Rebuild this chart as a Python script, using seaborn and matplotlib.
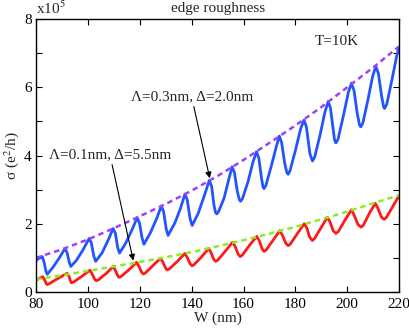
import numpy as np
import pandas as pd
import matplotlib
matplotlib.use("Agg")
import matplotlib.pyplot as plt
import seaborn as sns

# ---- data (sigma in units of 1e5 e^2/h) ----
blue_w = [80.0, 81.3, 82.4, 83.2, 83.8, 84.3, 86.5, 89.0, 91.2, 92.0, 92.8, 93.4,
          95.5, 98.0, 100.5, 101.3, 102.3, 103.0, 105.5, 108.0, 109.7, 110.6, 111.5, 112.2,
          114.5, 117.0, 119.0, 119.9, 120.9, 121.6, 124.0, 126.5, 128.3, 129.2, 130.2, 130.9,
          133.5, 135.7, 137.4, 138.3, 139.4, 140.2, 142.5, 145.0, 146.8, 147.7, 148.6, 149.2,
          149.7, 150.4, 152.5, 154.3, 155.6, 156.5, 157.6, 158.4, 158.9, 159.6, 161.8, 163.6,
          165.0, 165.9, 166.9, 167.5, 167.9, 168.6, 170.8, 172.6, 173.8, 174.7, 175.8, 176.7,
          177.2, 177.9, 180.0, 182.0, 183.3, 184.2, 185.0, 185.6, 186.6, 187.4, 189.5, 191.3,
          192.6, 193.5, 194.5, 195.1, 195.6, 196.4, 198.6, 200.4, 201.6, 202.6, 203.8, 204.7,
          205.2, 206.0, 208.0, 209.8, 211.0, 212.0, 213.2, 214.0, 214.4, 215.2, 217.3, 219.0,
          220.0]
blue_s = [0.92, 1.00, 1.04, 0.85, 0.62, 0.52, 0.72, 1.00, 1.28, 1.15, 0.88, 0.75,
          0.92, 1.22, 1.57, 1.45, 1.05, 0.90, 1.15, 1.55, 1.86, 1.72, 1.30, 1.14,
          1.42, 1.82, 2.18, 2.02, 1.58, 1.40, 1.72, 2.15, 2.52, 2.35, 1.85, 1.66,
          2.02, 2.45, 2.87, 2.70, 2.15, 1.95, 2.30, 2.85, 3.27, 3.10, 2.55, 2.33,
          2.29, 2.36, 2.75, 3.30, 3.67, 3.50, 2.95, 2.70, 2.66, 2.74, 3.25, 3.80,
          4.11, 3.92, 3.35, 3.08, 3.03, 3.12, 3.72, 4.25, 4.57, 4.38, 3.80, 3.50,
          3.45, 3.55, 4.15, 4.78, 5.04, 4.85, 4.40, 4.05, 3.84, 3.95, 4.60, 5.25,
          5.58, 5.40, 4.80, 4.45, 4.37, 4.47, 5.20, 5.85, 6.12, 5.90, 5.25, 4.90,
          4.84, 4.95, 5.65, 6.33, 6.61, 6.40, 5.75, 5.42, 5.38, 5.50, 6.25, 6.90,
          7.18]

red_w = [80.0, 81.3, 82.6, 83.4, 84.0, 84.3, 85.0, 88.5, 92.0, 92.8, 93.3, 93.7,
         94.4, 97.5, 100.8, 101.7, 102.6, 103.2, 103.9, 107.0, 109.8, 110.7, 111.5, 112.0,
         112.7, 115.8, 118.8, 119.7, 120.7, 121.3, 122.0, 125.0, 128.0, 128.9, 129.9, 130.5,
         131.3, 134.5, 137.4, 138.4, 139.4, 140.1, 140.9, 143.8, 146.6, 147.5, 148.5, 149.2,
         150.0, 153.0, 155.8, 156.8, 157.9, 158.7, 159.5, 162.4, 165.1, 166.1, 167.2, 167.9,
         168.7, 171.5, 174.0, 175.0, 176.3, 177.2, 178.0, 180.8, 183.4, 184.4, 185.4, 186.5,
         187.3, 190.0, 192.3, 193.3, 194.6, 195.6, 196.5, 199.2, 201.6, 202.6, 204.1, 205.3,
         206.2, 208.6, 210.8, 211.8, 213.2, 214.2, 215.1, 217.7, 220.0]
red_s = [0.35, 0.40, 0.45, 0.34, 0.24, 0.22, 0.24, 0.40, 0.55, 0.45, 0.32, 0.27,
         0.29, 0.45, 0.64, 0.52, 0.38, 0.33, 0.35, 0.54, 0.75, 0.62, 0.48, 0.43,
         0.45, 0.65, 0.87, 0.75, 0.58, 0.53, 0.55, 0.77, 0.99, 0.88, 0.71, 0.65,
         0.67, 0.90, 1.13, 1.00, 0.83, 0.77, 0.80, 1.03, 1.28, 1.15, 0.96, 0.90,
         0.93, 1.20, 1.46, 1.33, 1.11, 1.04, 1.08, 1.38, 1.63, 1.50, 1.26, 1.19,
         1.23, 1.53, 1.80, 1.66, 1.43, 1.36, 1.40, 1.72, 2.00, 1.88, 1.62, 1.51,
         1.56, 1.90, 2.19, 2.06, 1.79, 1.72, 1.77, 2.12, 2.41, 2.26, 1.98, 1.90,
         1.96, 2.32, 2.60, 2.45, 2.19, 2.13, 2.19, 2.53, 2.83]

env_w = [80, 90, 100, 110, 120, 130, 140, 150, 160, 170, 180, 190, 200, 210, 220]
purple_s = [1.00, 1.25, 1.54, 1.87, 2.22, 2.58, 2.97, 3.40, 3.87, 4.37, 4.88, 5.42, 6.00, 6.58, 7.20]
green_s = [0.37, 0.49, 0.62, 0.75, 0.88, 1.02, 1.17, 1.34, 1.52, 1.71, 1.91, 2.13, 2.36, 2.60, 2.84]

x_ticks = [80, 100, 120, 140, 160, 180, 200, 220]
y_ticks = [0, 1, 2, 3, 4, 5, 6, 7, 8]
y_ticklabels = ['0', '', '2', '', '4', '', '6', '', '8']

# ---- style ----
sns.set_theme(style="ticks")
plt.rcParams['font.family'] = ['Liberation Serif', 'DejaVu Serif']
plt.rcParams['mathtext.fontset'] = 'stix'
plt.rcParams['axes.linewidth'] = 1.0

fig = plt.figure(figsize=(4.09, 3.33), dpi=100)
ax = fig.add_axes([0.088, 0.123, 0.888, 0.820])

df_blue = pd.DataFrame({'W': blue_w, 'sigma': blue_s})
df_red = pd.DataFrame({'W': red_w, 'sigma': red_s})
df_env = pd.DataFrame({'W': env_w, 'purple': purple_s, 'green': green_s})

sns.lineplot(data=df_blue, x='W', y='sigma', ax=ax, color='#2355ff', lw=2.0, estimator=None, sort=False)
sns.lineplot(data=df_red, x='W', y='sigma', ax=ax, color='#ff1a1a', lw=2.0, estimator=None, sort=False)
sns.lineplot(data=df_env, x='W', y='purple', ax=ax, color='#a040f8', lw=1.8,
             linestyle=(0, (2.2, 1.6)), estimator=None)
sns.lineplot(data=df_env, x='W', y='green', ax=ax, color='#88ee22', lw=1.8,
             linestyle=(0, (2.2, 1.6)), estimator=None)

ax.set_xlim(80, 220)
ax.set_ylim(0, 8)
ax.set_xticks(x_ticks)
ax.set_yticks(y_ticks)
ax.set_yticklabels(y_ticklabels)
ax.tick_params(direction='in', length=4, width=0.8, top=True, right=True,
               labelsize=11, colors='black')
ax.tick_params(axis='x', pad=4)
ax.tick_params(axis='y', pad=3)
for s in ax.spines.values():
    s.set_color('black')
    s.set_linewidth(1.0)

ax.set_xlabel('W (nm)', fontsize=11, labelpad=1)
ax.set_ylabel(r'σ (e$^2$/h)', fontsize=11, labelpad=2)
ax.set_title('edge roughness', fontsize=11, pad=5)
ax.text(0.0, 1.008, r'x10$^5$', transform=ax.transAxes, fontsize=11, ha='left', va='bottom')
ax.text(196, 7.33, 'T=10K', fontsize=11, ha='center', va='center')

ax.annotate('Λ=0.3nm, Δ=2.0nm', xy=(147.0, 3.33), xytext=(140.0, 5.72),
            fontsize=11, ha='center', va='center',
            arrowprops=dict(arrowstyle='-|>', color='black', lw=0.8, mutation_scale=9,
                            shrinkA=0, shrinkB=0))
ax.annotate('Λ=0.1nm, Δ=5.5nm', xy=(117.5, 0.92), xytext=(108.5, 4.02),
            fontsize=11, ha='center', va='center',
            arrowprops=dict(arrowstyle='-|>', color='black', lw=0.8, mutation_scale=9,
                            shrinkA=0, shrinkB=0))

fig.savefig('out.png', dpi=100)
